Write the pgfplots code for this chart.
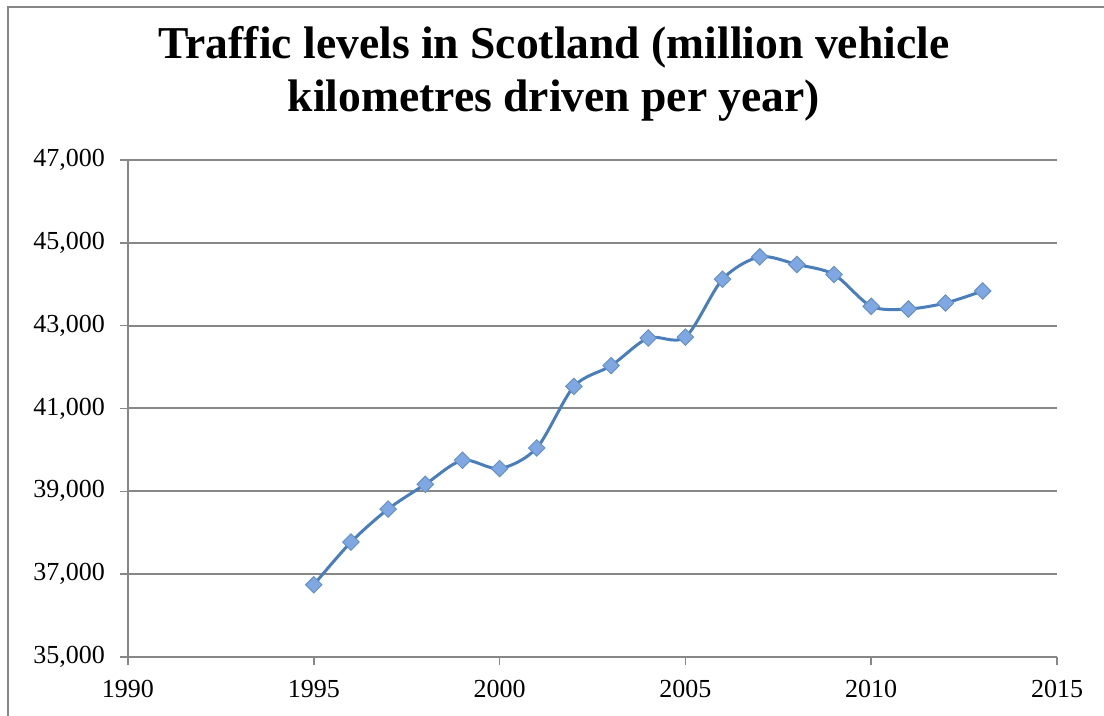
\documentclass[border=0pt]{standalone}
\usepackage{fontspec}
\setmainfont{Liberation Serif}
\usepackage{pgfplots}
\pgfplotsset{compat=1.18}
\definecolor{linec}{HTML}{4A7EBB}
\definecolor{markf}{HTML}{7FA8E2}
\definecolor{gridc}{HTML}{878787}
\pgfplotstableread{
year value
1995 36744
1996 37774
1997 38572
1998 39169
1999 39750
2000 39549
2001 40047
2002 41533
2003 42034
2004 42700
2005 42724
2006 44121
2007 44661
2008 44477
2009 44235
2010 43467
2011 43402
2012 43547
2013 43838
}\traffic
\begin{document}
\begin{tikzpicture}
\path[use as bounding box] (0,0) rectangle (552pt,358pt);
\draw[gridc, line width=0.6pt] (4pt,0) -- (4pt,354.5pt) -- (552pt,354.5pt);
\node[font=\bfseries\fontsize{22.8}{26.5}\selectfont, align=center] at (277pt,321pt) {Traffic levels in Scotland (million vehicle\\kilometres driven per year)};
\begin{axis}[
  at={(64pt,29.5pt)}, anchor=south west,
  scale only axis, width=464.5pt, height=248.5pt,
  xmin=1990, xmax=2015, ymin=35000, ymax=47000,
  xtick={1990,1995,...,2015}, ytick={35000,37000,...,47000},
  scaled y ticks=false,
  axis x line=bottom, axis y line=left,
  axis line style={-, gridc, line width=1pt},
  tick align=outside, major tick length=4pt,
  tick style={gridc, line width=0.8pt},
  ymajorgrids, grid style={gridc, line width=1pt},
  tick label style={font=\fontsize{13}{15}\selectfont},
  /pgf/number format/assume math mode=true,
  x tick label style={/pgf/number format/1000 sep={}, yshift=-4pt},
  y tick label style={/pgf/number format/1000 sep={,}, xshift=-4pt},
  clip=false,
]
\addplot[linec, line width=1.5pt, smooth, tension=0.5, mark=square*, mark size=2.9pt, mark options={rotate=45, fill=markf, draw=linec!85!white, line width=0.5pt}] table[x=year,y=value] {\traffic};
\end{axis}
\end{tikzpicture}
\end{document}
